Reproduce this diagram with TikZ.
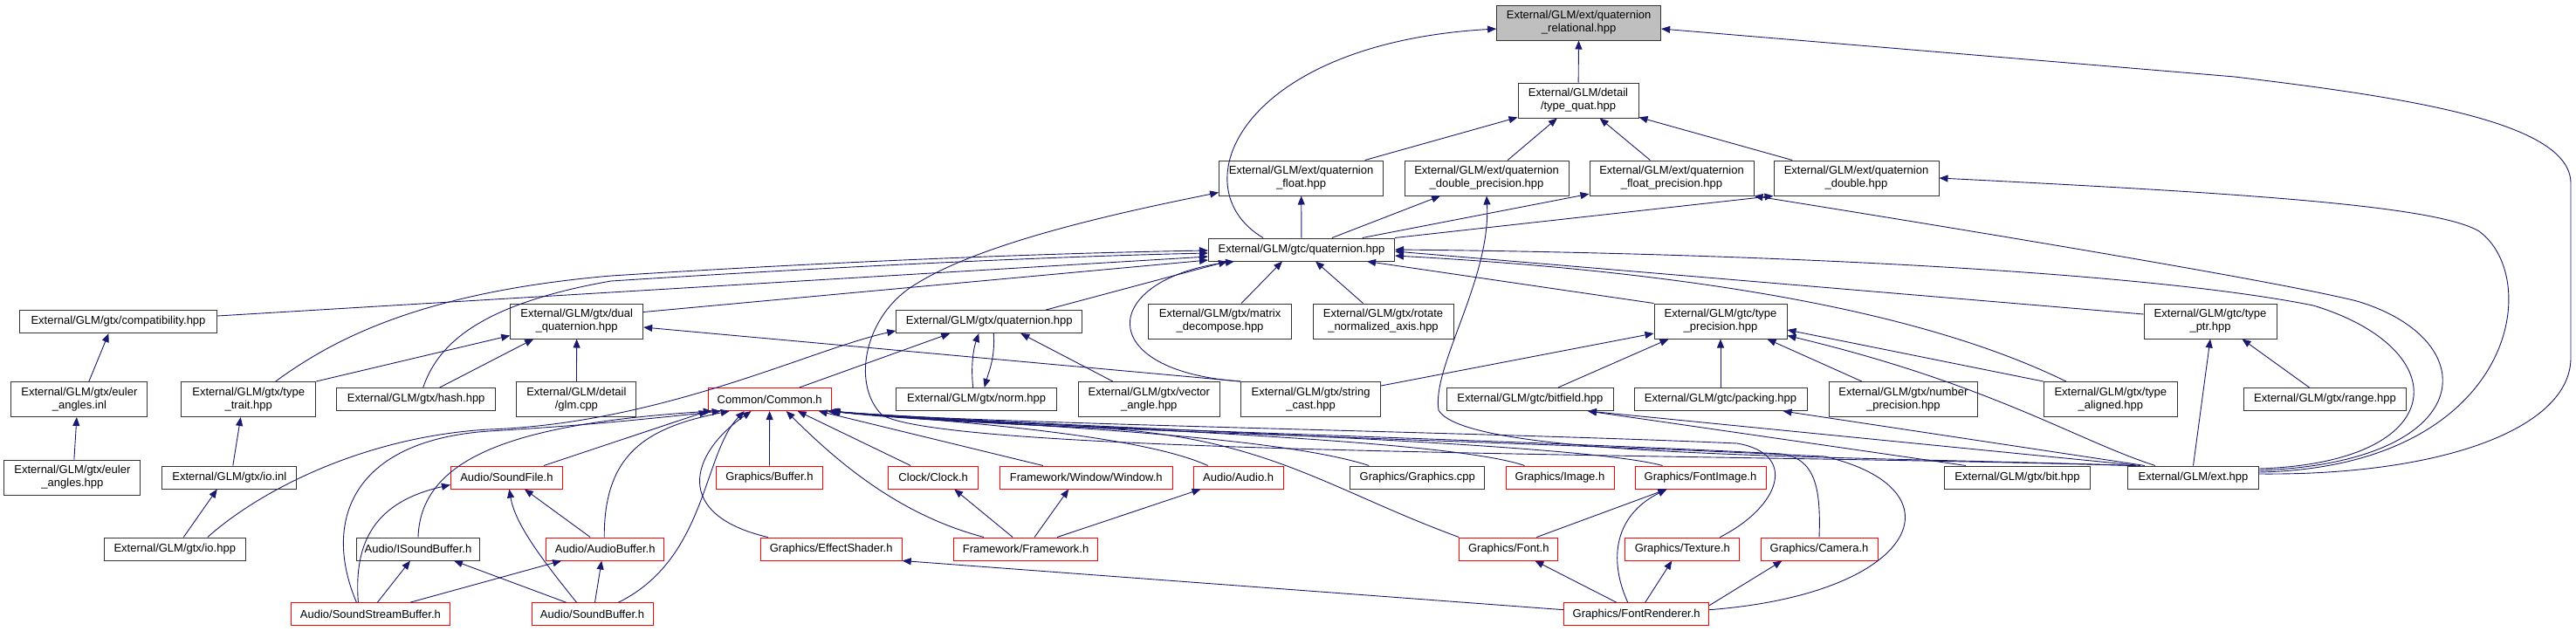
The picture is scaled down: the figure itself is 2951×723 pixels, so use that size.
\documentclass[tikz,border=0pt]{standalone}
\usepackage{fontspec}
\setmainfont{Liberation Sans}
\usetikzlibrary{arrows.meta,calc}
\definecolor{edgec}{RGB}{25,25,112}
\definecolor{nodegray}{RGB}{191,191,191}
\newcommand\nfs{\fontsize{13}{15}\selectfont}
\tikzset{
 nd/.style={draw=black!80, line width=1pt, fill=white, inner sep=0pt, align=center, font=\nfs, minimum height=26, text=black},
 tl/.style={minimum height=40},
 rd/.style={draw=red},
 root/.style={fill=nodegray},
 lnk/.style={draw=edgec, line width=0.9pt, -{Triangle[length=10pt,width=8pt]}},
}
\begin{document}
\begin{tikzpicture}[x=1pt,y=-1pt]
\fill[white] (0,0) rectangle (2951,723);
\useasboundingbox (0,0) rectangle (2951,723);
% row 1-3
\node[nd,root,tl,minimum width=188] (rel) at (1808.6,26) {External/GLM/ext/quaternion\\\_relational.hpp};
\node[nd,tl,minimum width=138] (typequat) at (1808,115) {External/GLM/detail\\/type\_quat.hpp};
\node[nd,tl,minimum width=188] (qfloat) at (1490.6,204) {External/GLM/ext/quaternion\\\_float.hpp};
\node[nd,tl,minimum width=188] (qdp) at (1703,204) {External/GLM/ext/quaternion\\\_double\_precision.hpp};
\node[nd,tl,minimum width=188] (qfp) at (1915,204) {External/GLM/ext/quaternion\\\_float\_precision.hpp};
\node[nd,tl,minimum width=189] (qdouble) at (2126.5,204) {External/GLM/ext/quaternion\\\_double.hpp};
\node[nd,minimum width=213] (gtcquat) at (1491,286) {External/GLM/gtc/quaternion.hpp};
% row 368
\node[nd,minimum width=226] (compat) at (135.5,368.5) {External/GLM/gtx/compatibility.hpp};
\node[nd,tl,minimum width=152] (dualquat) at (660.7,368) {External/GLM/gtx/dual\\\_quaternion.hpp};
\node[nd,minimum width=213] (gtxquat) at (1133.3,368.5) {External/GLM/gtx/quaternion.hpp};
\node[nd,tl,minimum width=164] (matdec) at (1397.6,368) {External/GLM/gtx/matrix\\\_decompose.hpp};
\node[nd,tl,minimum width=161] (rotate) at (1584.5,368) {External/GLM/gtx/rotate\\\_normalized\_axis.hpp};
\node[nd,tl,minimum width=152] (typeprec) at (1971,368) {External/GLM/gtc/type\\\_precision.hpp};
\node[nd,tl,minimum width=152] (typeptr) at (2532,368) {External/GLM/gtc/type\\\_ptr.hpp};
% row 457
\node[nd,tl,minimum width=156] (eulerinl) at (90.9,457.5) {External/GLM/gtx/euler\\\_angles.inl};
\node[nd,tl,minimum width=154] (typetrait) at (284.7,457.5) {External/GLM/gtx/type\\\_trait.hpp};
\node[nd,minimum width=182] (hash) at (476.7,457.5) {External/GLM/gtx/hash.hpp};
\node[nd,tl,minimum width=137] (glmcpp) at (660.4,457.5) {External/GLM/detail\\/glm.cpp};
\node[nd,rd,minimum width=141] (common) at (881.7,457.5) {Common/Common.h};
\node[nd,minimum width=184] (norm) at (1118.7,457.5) {External/GLM/gtx/norm.hpp};
\node[nd,tl,minimum width=162] (vecangle) at (1316.3,457.5) {External/GLM/gtx/vector\\\_angle.hpp};
\node[nd,tl,minimum width=160] (strcast) at (1501.6,457.5) {External/GLM/gtx/string\\\_cast.hpp};
\node[nd,minimum width=191] (bitfield) at (1752.9,457.5) {External/GLM/gtc/bitfield.hpp};
\node[nd,minimum width=198] (packing) at (1971,457.5) {External/GLM/gtc/packing.hpp};
\node[nd,tl,minimum width=170] (numprec) at (2180.4,457.5) {External/GLM/gtx/number\\\_precision.hpp};
\node[nd,tl,minimum width=153] (typealigned) at (2417.8,457.5) {External/GLM/gtx/type\\\_aligned.hpp};
\node[nd,minimum width=186] (range) at (2663.5,457.5) {External/GLM/gtx/range.hpp};
% row 547
\node[nd,tl,minimum width=156] (eulerhpp) at (82.9,547) {External/GLM/gtx/euler\\\_angles.hpp};
\node[nd,minimum width=154] (ioinl) at (262.8,547) {External/GLM/gtx/io.inl};
\node[nd,rd,minimum width=128] (soundfile) at (580.4,547) {Audio/SoundFile.h};
\node[nd,rd,minimum width=122] (buffer) at (881.4,547) {Graphics/Buffer.h};
\node[nd,rd,minimum width=103] (clock) at (1069.2,547) {Clock/Clock.h};
\node[nd,rd,minimum width=198] (window) at (1244.3,547) {Framework/Window/Window.h};
\node[nd,rd,minimum width=103] (audio) at (1418.6,547) {Audio/Audio.h};
\node[nd,minimum width=154] (gcpp) at (1623.8,547) {Graphics/Graphics.cpp};
\node[nd,rd,minimum width=124] (image) at (1787,547) {Graphics/Image.h};
\node[nd,rd,minimum width=150] (fontimage) at (1948,547) {Graphics/FontImage.h};
\node[nd,minimum width=167] (bit) at (2311,547) {External/GLM/gtx/bit.hpp};
\node[nd,minimum width=150] (ext) at (2512.5,547) {External/GLM/ext.hpp};
% row 629
\node[nd,minimum width=162] (iohpp) at (200.3,629) {External/GLM/gtx/io.hpp};
\node[nd,minimum width=141] (isb) at (479,629) {Audio/ISoundBuffer.h};
\node[nd,rd,minimum width=135] (ab) at (693.2,629) {Audio/AudioBuffer.h};
\node[nd,rd,minimum width=162] (es) at (952.2,629) {Graphics/EffectShader.h};
\node[nd,rd,minimum width=165] (framework) at (1175.1,629) {Framework/Framework.h};
\node[nd,rd,minimum width=113] (font) at (1728.3,629) {Graphics/Font.h};
\node[nd,rd,minimum width=131] (texture) at (1927.3,629) {Graphics/Texture.h};
\node[nd,rd,minimum width=134] (camera) at (2084,629) {Graphics/Camera.h};
% row 703
\node[nd,rd,minimum width=182] (ssb) at (424.4,703.7) {Audio/SoundStreamBuffer.h};
\node[nd,rd,minimum width=139] (sb) at (678.5,703.7) {Audio/SoundBuffer.h};
\node[nd,rd,minimum width=166] (fr) at (1874.7,703.7) {Graphics/FontRenderer.h};

% ---------- edges: top
\draw[lnk] (typequat) -- (rel);
\draw[lnk] (qfloat) -- (typequat);
\draw[lnk] (qdp) -- (typequat);
\draw[lnk] (qfp) -- (typequat);
\draw[lnk] (qdouble) -- (typequat);
\draw[lnk] (gtcquat) -- (qfloat);
\draw[lnk] (gtcquat) -- (qdp);
\draw[lnk] (gtcquat) -- (qfp);
\draw[lnk] (gtcquat.north east) -- (qdouble.south west);
\draw[lnk] ($(gtcquat.north)+(-44,0)$) .. controls (1350,215) and (1420,50) .. ($(rel.west)+(0,7)$);
% ext curves on the right
\draw[lnk] ($(ext.east)+(0,-4)$) .. controls (2800,545) and (2945,490) .. (2945,410) -- (2945,210) .. controls (2945,140) and (2760,112) .. (2560,88) -- ($(rel.east)+(0,7)$);
\draw[lnk] ($(ext.east)+(0,-6)$) .. controls (2880,535) and (2915,320) .. (2840,265) .. controls (2790,235) and (2560,221) .. (qdouble.east);
\draw[lnk] ($(ext.east)+(0,-8)$) .. controls (2840,530) and (2850,390) .. (2700,345) .. controls (2600,320) and (2200,255) .. (qfp.south east);
\draw[lnk] ($(ext.east)+(0,-10)$) .. controls (2810,530) and (2815,400) .. (2650,350) .. controls (2450,310) and (2000,290) .. (gtcquat.east);
\draw[lnk] ($(ext.north west)+(10,0)$) .. controls (2100,522) and (1680,525) .. (1648,470) .. controls (1640,420) and (1708,320) .. (qdp.south);
\draw[lnk] ($(ext.north west)+(5,0)$) .. controls (2000,520) and (1080,522) .. (1010,475) .. controls (975,440) and (990,360) .. (1050,325) .. controls (1130,275) and (1300,240) .. ($(qfloat.south west)+(0,-4)$);
\draw[lnk] (ext.north) -- (typeptr.south);
\draw[lnk] ($(ext.north west)+(32,0)$) .. controls (2380,505) and (2280,440) .. ($(typeprec.south east)+(0,-4)$);
\draw[lnk] ($(ext.north west)+(15,0)$) -- ($(bitfield.south east)+(-30,0)$);
\draw[lnk] ($(ext.north west)+(20,0)$) -- ($(packing.south east)+(-28,0)$);
\draw[lnk] ($(bit.north west)+(25,0)$) -- ($(bitfield.south east)+(-30,0)$);
% gtc/quaternion includers
\draw[lnk] ($(typeptr.west)+(0,-8)$) -- ($(gtcquat.east)+(0,2)$);
\draw[lnk] ($(typealigned.north west)+(26,0)$) .. controls (2230,370) and (2000,315) .. ($(gtcquat.east)+(0,7)$);
\draw[lnk] (typeprec.north west) -- ($(gtcquat.south east)+(-32,0)$);
\draw[lnk] ($(matdec.north east)+(-58,0)$) -- ($(gtcquat.south)+(-22,0)$);
\draw[lnk] ($(rotate.north)+(-23,0)$) -- ($(gtcquat.south)+(16,0)$);
\draw[lnk] ($(gtxquat.north east)+(-42,0)$) -- ($(gtcquat.south west)+(22,0)$);
\draw[lnk] (strcast.north west) .. controls (1250,425) and (1260,320) .. ($(gtcquat.south west)+(30,0)$);
\draw[lnk] ($(typetrait.north)+(31,0)$) .. controls (380,390) and (480,335) .. (700,316) .. controls (950,300) and (1200,290) .. ($(gtcquat.west)+(0,1)$);
\draw[lnk] ($(hash.north)+(8,0)$) .. controls (500,400) and (540,350) .. (700,322) .. controls (950,306) and (1200,294) .. ($(gtcquat.west)+(0,4)$);
\draw[lnk] ($(compat.north east)+(0,7)$) -- ($(gtcquat.west)+(0,8)$);
\draw[lnk] ($(dualquat.north east)+(0,10)$) -- ($(gtcquat.west)+(0,12)$);
% type_precision includers
\draw[lnk] (typealigned.north west) -- ($(typeprec.east)+(0,10)$);
\draw[lnk] ($(bitfield.north east)+(-64,0)$) -- ($(typeprec.south west)+(17,0)$);
\draw[lnk] (packing) -- (typeprec);
\draw[lnk] ($(numprec.north west)+(38,0)$) -- ($(typeprec.south east)+(-23,0)$);
\draw[lnk] ($(strcast.north east)+(0,5)$) -- ($(typeprec.west)+(0,14)$);
\draw[lnk] ($(range.north)+(-18,0)$) -- ($(typeptr.south east)+(-40,0)$);
% dual quaternion, gtx quaternion
\draw[lnk] (strcast.north west) -- ($(dualquat.east)+(0,7)$);
\draw[lnk] (typetrait.north east) -- ($(dualquat.south west)+(0,-4)$);
\draw[lnk] ($(hash.north)+(27,0)$) -- ($(dualquat.south west)+(27,0)$);
\draw[lnk] (glmcpp) -- (dualquat);
\draw[lnk] ($(norm.north)+(-4,0)$) .. controls (1112,420) and (1115,400) .. ($(gtxquat.south)+(-12,0)$);
\draw[lnk] ($(gtxquat.south)+(5,0)$) .. controls (1140,410) and (1133,425) .. ($(norm.north)+(9,0)$);
\draw[lnk] ($(vecangle.north west)+(40,0)$) -- ($(gtxquat.south)+(36,0)$);
\draw[lnk] ($(common.north east)+(-37,0)$) -- ($(gtxquat.south west)+(62,0)$);
\draw[lnk] ($(iohpp.north east)+(-44,0)$) .. controls (300,560) and (420,500) .. (560,492) .. controls (760,485) and (930,400) .. ($(gtxquat.south west)+(0,-3)$);
% left GLM chain
\draw[lnk] ($(eulerinl.north)+(11,0)$) -- ($(compat.south)+(-11,0)$);
\draw[lnk] ($(eulerhpp.north)+(2,0)$) -- ($(eulerinl.south)+(-3,0)$);
\draw[lnk] ($(ioinl.north)+(4,0)$) -- ($(typetrait.south)+(-9,0)$);
\draw[lnk] ($(iohpp.north)+(10,0)$) -- ($(ioinl.south)+(-14,0)$);
% Common.h includers
\draw[lnk] ($(soundfile.north east)+(-22,0)$) -- (common.south west);
\draw[lnk] (isb.north) .. controls (482,520) and (600,485) .. ($(common.south west)+(5,0)$);
\draw[lnk] ($(ssb.north)+(-16,0)$) .. controls (370,600) and (400,505) .. (560,494) .. controls (680,487) and (760,478) .. ($(common.south west)+(15,0)$);
\draw[lnk] ($(ab.north)+(-1,0)$) .. controls (692,520) and (740,490) .. ($(common.south west)+(25,0)$);
\draw[lnk] ($(sb.north)+(30,0)$) .. controls (810,640) and (805,520) .. ($(common.south west)+(42,0)$);
\draw[lnk] ($(es.north west)+(9,0)$) .. controls (770,590) and (790,520) .. ($(common.south west)+(50,0)$);
\draw[lnk] (buffer) -- (common);
\draw[lnk] ($(clock.north west)+(26,0)$) -- ($(common.south east)+(-39,0)$);
\draw[lnk] ($(window.north west)+(50,0)$) -- ($(common.south east)+(-15,0)$);
\draw[lnk] ($(framework.north west)+(35,0)$) .. controls (1030,590) and (960,530) .. ($(common.south east)+(-52,0)$);
\draw[lnk] ($(audio.north west)+(17,0)$) .. controls (1300,495) and (1050,480) .. ($(common.south east)+(-5,0)$);
\draw[lnk] ($(gcpp.north west)+(22,0)$) .. controls (1450,495) and (1100,485) .. ($(common.south east)+(-3,0)$);
\draw[lnk] ($(image.north west)+(22,0)$) .. controls (1650,500) and (1150,488) .. ($(common.south east)+(-3,0)$);
\draw[lnk] ($(fontimage.north west)+(32,0)$) .. controls (1800,505) and (1200,490) .. ($(common.south east)+(-2,0)$);
\draw[lnk] (font.north west) .. controls (1520,560) and (1450,500) .. (1250,490) .. controls (1100,484) and (1000,476) .. ($(common.south east)+(-2,0)$);
\draw[lnk] ($(texture.north east)+(-23,0)$) .. controls (2040,580) and (2060,520) .. (1990,508) .. controls (1700,495) and (1100,485) .. ($(common.south east)+(-1,0)$);
\draw[lnk] (camera.north) .. controls (2086,560) and (2080,525) .. (2040,520) .. controls (1700,502) and (1100,488) .. ($(common.south east)+(-1,0)$);
\draw[lnk] ($(fr.east)+(0,-5)$) .. controls (2200,680) and (2250,560) .. (2090,523) .. controls (1700,504) and (1100,490) .. (common.south east);
% Framework
\draw[lnk] ($(framework.north)+(-15,0)$) -- ($(clock.south)+(24,0)$);
\draw[lnk] ($(framework.north)+(10,0)$) -- ($(window.south)+(-20,0)$);
\draw[lnk] ($(framework.north east)+(-47,0)$) -- ($(audio.south west)+(9,0)$);
% FontRenderer
\draw[lnk] ($(fr.north)+(-23,0)$) -- ($(font.south)+(30,0)$);
\draw[lnk] ($(fr.north)+(10,0)$) -- ($(texture.south)+(-12,0)$);
\draw[lnk] ($(fr.north)+(-10,0)$) .. controls (1842,640) and (1850,590) .. ($(fontimage.south west)+(37,0)$);
\draw[lnk] ($(font.north east)+(-25,0)$) -- ($(fontimage.south west)+(37,0)$);
\draw[lnk] ($(fr.east)+(0,-10)$) -- ($(camera.south west)+(25,0)$);
\draw[lnk] ($(fr.west)+(0,-5)$) -- (es.south east);
% Audio
\draw[lnk] ($(ssb.north)+(-14,0)$) .. controls (405,620) and (430,575) .. ($(soundfile.south west)+(0,-5)$);
\draw[lnk] ($(sb.north)+(-18,0)$) .. controls (620,640) and (590,600) .. ($(soundfile.south)+(3,0)$);
\draw[lnk] ($(ab.north west)+(51,0)$) -- ($(soundfile.south east)+(-44,0)$);
\draw[lnk] ($(ssb.north)+(8,0)$) -- ($(isb.south)+(-9,0)$);
\draw[lnk] ($(sb.north)+(-30,0)$) -- ($(isb.south east)+(-30,0)$);
\draw[lnk] ($(ssb.north east)+(-46,0)$) -- ($(ab.south west)+(18,0)$);
\draw[lnk] ($(sb.north)+(3,0)$) -- ($(ab.south)+(-4,0)$);
\end{tikzpicture}
\end{document}
